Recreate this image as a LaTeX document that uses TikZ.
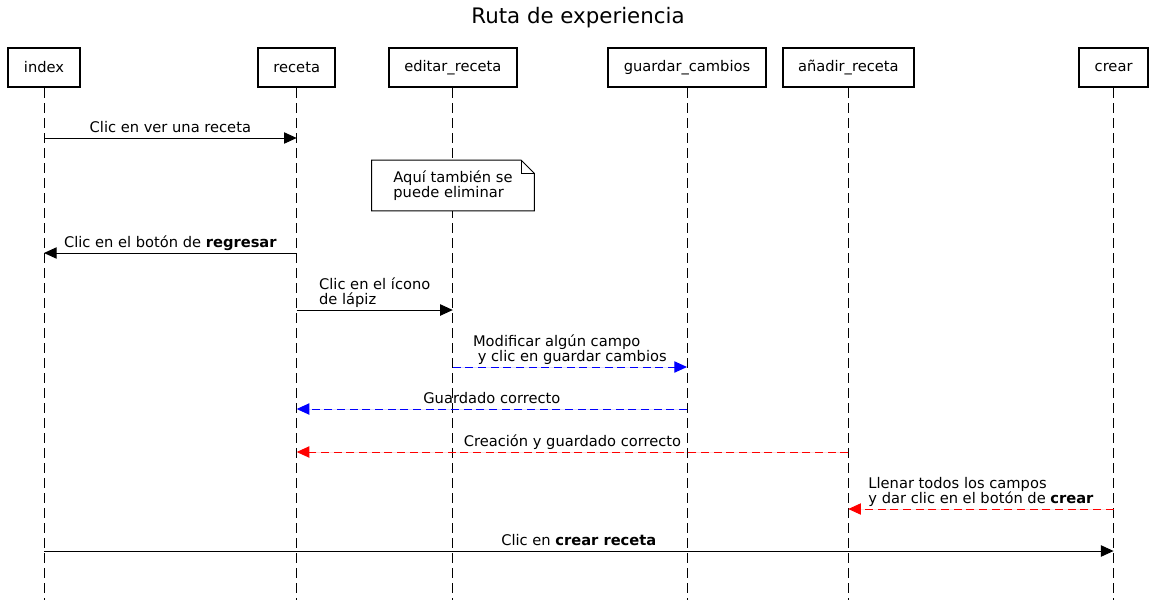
\documentclass[tikz,border=0pt]{standalone}
\usepackage{fontspec}
\setmainfont{DejaVu Sans}
\usetikzlibrary{arrows.meta,calc}

\begin{document}
\begin{tikzpicture}[x=0.75pt, y=-0.75pt]
\fontsize{11}{11.25}\selectfont

\tikzstyle{actor}    = [draw, rectangle, line width=1.5pt, inner xsep=11.6pt, minimum height=29.5pt, fill=white]
\tikzstyle{lifeline} = [line width=0.75pt, dash pattern=on 7.5pt off 3.75pt]
\tikzstyle{msg}      = [line width=0.75pt, -{Triangle[length=9.5pt, width=8.5pt]}]
\tikzstyle{ret}      = [msg, dash pattern=on 6pt off 3.5pt]
\tikzstyle{lbl}      = [anchor=south, inner sep=0pt, text depth=0pt, align=left, yshift=3.5pt]
\tikzstyle{nota}     = [fill=white, minimum width=121.5pt, minimum height=37.5pt, align=left, inner sep=0pt]

\useasboundingbox (0,0) rectangle (1156,604);

\node [font=\fontsize{16}{19}\selectfont] (Titulo) at (578,18) {Ruta de experiencia};

% participantes
\node [actor] (Index)   at (44,67.5)     {index};
\node [actor] (Receta)  at (296.7,67.5)  {receta};
\node [actor] (Editar)  at (452.8,67.5)  {editar\_receta};
\node [actor] (Guardar) at (687,67.5)    {guardar\_cambios};
\node [actor] (Anadir)  at (848.3,67.5)  {añadir\_receta};
\node [actor] (Crear)   at (1113.6,67.5) {crear};

\coordinate (Fondo) at (0,600);
\foreach \n in {Index,Receta,Editar,Guardar,Anadir,Crear}
  \draw [lifeline] (\n.south) -- (\n.south |- Fondo);

% mensajes
\coordinate (M1) at (0,138);
\coordinate (M2) at (0,253);
\coordinate (M3) at (0,310);
\coordinate (M4) at (0,367);
\coordinate (M5) at (0,409);
\coordinate (M6) at (0,452);
\coordinate (M7) at (0,509);
\coordinate (M8) at (0,551);

\draw [msg] (Index |- M1) -- (Receta |- M1) node [lbl, midway] {Clic en ver una receta};

\node [nota] (Nota) at (453,185.5) {Aquí también se\\puede eliminar};
\draw [line width=0.75pt] (Nota.north west) -- ($(Nota.north east)+(-13,0)$) -- ($(Nota.north east)+(0,13)$) -- (Nota.south east) -- (Nota.south west) -- cycle;
\draw [line width=0.75pt] ($(Nota.north east)+(-13,0)$) -- ($(Nota.north east)+(-13,13)$) -- ($(Nota.north east)+(0,13)$);

\draw [msg] (Receta |- M2) -- (Index |- M2) node [lbl, midway] {Clic en el botón de \textbf{regresar}};
\draw [msg] (Receta |- M3) -- (Editar |- M3) node [lbl, midway] {Clic en el ícono\\de lápiz};
\draw [ret, draw=blue, fill=blue] (Editar |- M4) -- (Guardar |- M4) node [lbl, midway, text=black] {Modificar algún campo\\\hspace*{.32em}y clic en guardar cambios};
\draw [ret, draw=blue, fill=blue] (Guardar |- M5) -- (Receta |- M5) node [lbl, midway, text=black] {Guardado correcto};
\draw [ret, draw=red, fill=red] (Anadir |- M6) -- (Receta |- M6) node [lbl, midway, text=black] {Creación y guardado correcto};
\draw [ret, draw=red, fill=red] (Crear |- M7) -- (Anadir |- M7) node [lbl, midway, text=black] {Llenar todos los campos\\y dar clic en el botón de \textbf{crear}};
\draw [msg] (Index |- M8) -- (Crear |- M8) node [lbl, midway] {Clic en \textbf{crear receta}};
\end{tikzpicture}
\end{document}
